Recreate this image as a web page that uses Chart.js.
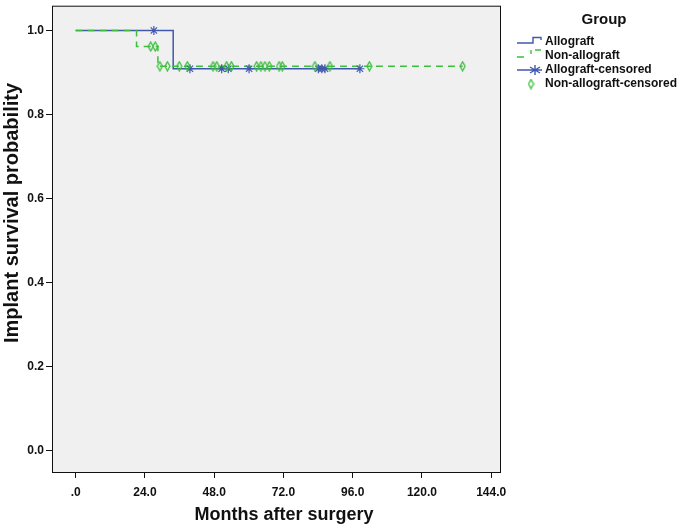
<!DOCTYPE html>
<html>
<head>
<meta charset="utf-8">
<script src="https://cdn.jsdelivr.net/npm/chart.js@4/dist/chart.umd.min.js"></script>
<style>
    html, body { margin: 0; padding: 0; background: #fff; }
    #wrap { width: 685px; height: 524px; }
</style>
</head>
<body>
<div id="wrap"><canvas id="kmChart" width="685" height="524"></canvas></div>
<script>
// Kaplan-Meier steps (months, survival)
const allograftTimes = [0, 33.8, 98.5];
const allograftSurv = [1.0, 0.909, 0.909];
const nonAllograftTimes = [0, 21.1, 28.5, 134.1];
const nonAllograftSurv = [1.0, 0.962, 0.915, 0.915];

// censored observations
const allograftCensTimes = [27.1, 39.6, 50.6, 52.9, 60.1, 84.1, 85.3, 86.4, 98.5];
const allograftCensSurv = [1.0, 0.909, 0.909, 0.909, 0.909, 0.909, 0.909, 0.909, 0.909];
const nonAllograftCensTimes = [26.0, 27.6, 29.2, 31.8, 35.9, 38.7, 47.6, 48.9, 52.3, 54.0,
    62.7, 64.2, 65.6, 67.1, 70.5, 71.6, 82.9, 88.1, 101.8, 134.1];
const nonAllograftCensSurv = [0.962, 0.962, 0.915, 0.915, 0.915, 0.915, 0.915, 0.915, 0.915, 0.915,
    0.915, 0.915, 0.915, 0.915, 0.915, 0.915, 0.915, 0.915, 0.915, 0.915];

const xTicks = [0, 24, 48, 72, 96, 120, 144];
const yTicks = [0, 0.2, 0.4, 0.6, 0.8, 1.0];

const BLUE = '#4157ad';
const GREEN = '#3cbf3c';
const FONT = "'Liberation Sans', Arial, sans-serif";

function toPoints(xs, ys) {
    return xs.map((x, i) => ({ x: x, y: ys[i] }));
}

// tall narrow diamond used by SPSS for censored marks
function makeDiamond() {
    const c = document.createElement('canvas');
    c.width = 7;
    c.height = 11;
    const g = c.getContext('2d');
    g.strokeStyle = GREEN;
    g.lineWidth = 1.3;
    g.beginPath();
    g.moveTo(3.5, 1);
    g.lineTo(6, 5.5);
    g.lineTo(3.5, 10);
    g.lineTo(1, 5.5);
    g.closePath();
    g.stroke();
    return c;
}
const diamond = makeDiamond();

const framePlugin = {
    id: 'frame',
    beforeDatasetsDraw(chart) {
        const a = chart.chartArea;
        const ctx = chart.ctx;
        ctx.save();
        ctx.fillStyle = '#f0f0f0';
        ctx.fillRect(a.left, a.top, a.right - a.left, a.bottom - a.top);
        ctx.restore();
    },
    afterDraw(chart) {
        const a = chart.chartArea;
        const ctx = chart.ctx;
        ctx.save();
        ctx.strokeStyle = '#111';
        ctx.lineWidth = 1;
        ctx.strokeRect(a.left + 0.5, a.top + 0.5, a.right - a.left - 1, a.bottom - a.top - 1);

        // axis titles
        ctx.fillStyle = '#111';
        ctx.font = 'bold 18px ' + FONT;
        ctx.textAlign = 'center';
        ctx.textBaseline = 'middle';
        ctx.fillText('Months after surgery', 284, 515);
        ctx.save();
        ctx.translate(12, 213);
        ctx.rotate(-Math.PI / 2);
        ctx.font = 'bold 20px ' + FONT;
        ctx.fillText('Implant survival probability', 0, 0);
        ctx.restore();

        // legend
        ctx.font = 'bold 15px ' + FONT;
        ctx.fillText('Group', 604, 20);
        ctx.font = 'bold 12px ' + FONT;
        ctx.textAlign = 'left';
        const ds = chart.data.datasets;
        const rows = [42, 56, 70, 84];
        ds.forEach((d, i) => {
            ctx.fillStyle = '#111';
            ctx.fillText(d.label, 545, rows[i]);
        });

        // glyphs
        ctx.lineWidth = 1.4;
        ctx.strokeStyle = BLUE;
        ctx.beginPath();
        ctx.moveTo(517, 43);
        ctx.lineTo(533, 43);
        ctx.lineTo(533, 37.5);
        ctx.lineTo(541, 37.5);
        ctx.lineTo(541, 40);
        ctx.stroke();

        ctx.strokeStyle = GREEN;
        ctx.beginPath();
        ctx.moveTo(517, 57); ctx.lineTo(524, 57);
        ctx.moveTo(531, 50); ctx.lineTo(531, 54);
        ctx.moveTo(535, 50); ctx.lineTo(541, 50);
        ctx.stroke();

        ctx.strokeStyle = BLUE;
        ctx.beginPath();
        ctx.moveTo(517, 70); ctx.lineTo(542, 70);
        ctx.moveTo(535, 65); ctx.lineTo(535, 75);
        ctx.moveTo(530, 67); ctx.lineTo(540, 73);
        ctx.moveTo(530, 73); ctx.lineTo(540, 67);
        ctx.stroke();

        ctx.drawImage(diamond, 531 - 3.5, 84 - 5.5);
        ctx.restore();
    }
};

new Chart(document.getElementById('kmChart').getContext('2d'), {
    type: 'line',
    data: {
        datasets: [{
            label: 'Allograft',
            data: toPoints(allograftTimes, allograftSurv),
            borderColor: BLUE,
            borderWidth: 1.5,
            stepped: true,
            pointRadius: 0,
            order: 4
        }, {
            label: 'Non-allograft',
            data: toPoints(nonAllograftTimes, nonAllograftSurv),
            borderColor: GREEN,
            borderWidth: 1.5,
            borderDash: [7, 5],
            stepped: true,
            pointRadius: 0,
            order: 3
        }, {
            label: 'Allograft-censored',
            data: toPoints(allograftCensTimes, allograftCensSurv),
            showLine: false,
            pointStyle: 'star',
            pointRadius: 4.5,
            pointBorderColor: BLUE,
            pointBorderWidth: 1.2,
            order: 2
        }, {
            label: 'Non-allograft-censored',
            data: toPoints(nonAllograftCensTimes, nonAllograftCensSurv),
            showLine: false,
            pointStyle: diamond,
            order: 1
        }]
    },
    options: {
        responsive: false,
        animation: false,
        events: [],
        layout: { padding: { left: 0, top: 2, right: 184, bottom: 0 } },
        plugins: {
            legend: { display: false },
            tooltip: { enabled: false }
        },
        scales: {
            x: {
                type: 'linear',
                min: -8.2,
                max: 147.4,
                afterBuildTicks: axis => { axis.ticks = xTicks.map(v => ({ value: v })); },
                afterFit: axis => {
                    axis.height = 51;
                    axis.paddingLeft = 0;
                    axis.paddingRight = 0;
                },
                grid: { drawOnChartArea: false, drawTicks: true, tickLength: 5, tickColor: '#111', tickWidth: 1 },
                border: { display: false },
                ticks: {
                    color: '#111',
                    padding: 7,
                    maxRotation: 0,
                    font: { family: FONT, size: 12, weight: 'bold' },
                    callback: v => v === 0 ? '.0' : v.toFixed(1)
                }
            },
            y: {
                type: 'linear',
                min: -0.053,
                max: 1.059,
                afterBuildTicks: axis => { axis.ticks = yTicks.map(v => ({ value: v })); },
                afterFit: axis => {
                    axis.width = 52;
                    axis.paddingTop = 0;
                    axis.paddingBottom = 0;
                },
                grid: { drawOnChartArea: false, drawTicks: true, tickLength: 6, tickColor: '#111', tickWidth: 1 },
                border: { display: false },
                ticks: {
                    color: '#111',
                    padding: 2,
                    font: { family: FONT, size: 12, weight: 'bold' },
                    callback: v => v.toFixed(1)
                }
            }
        }
    },
    plugins: [framePlugin]
});
</script>
</body>
</html>
